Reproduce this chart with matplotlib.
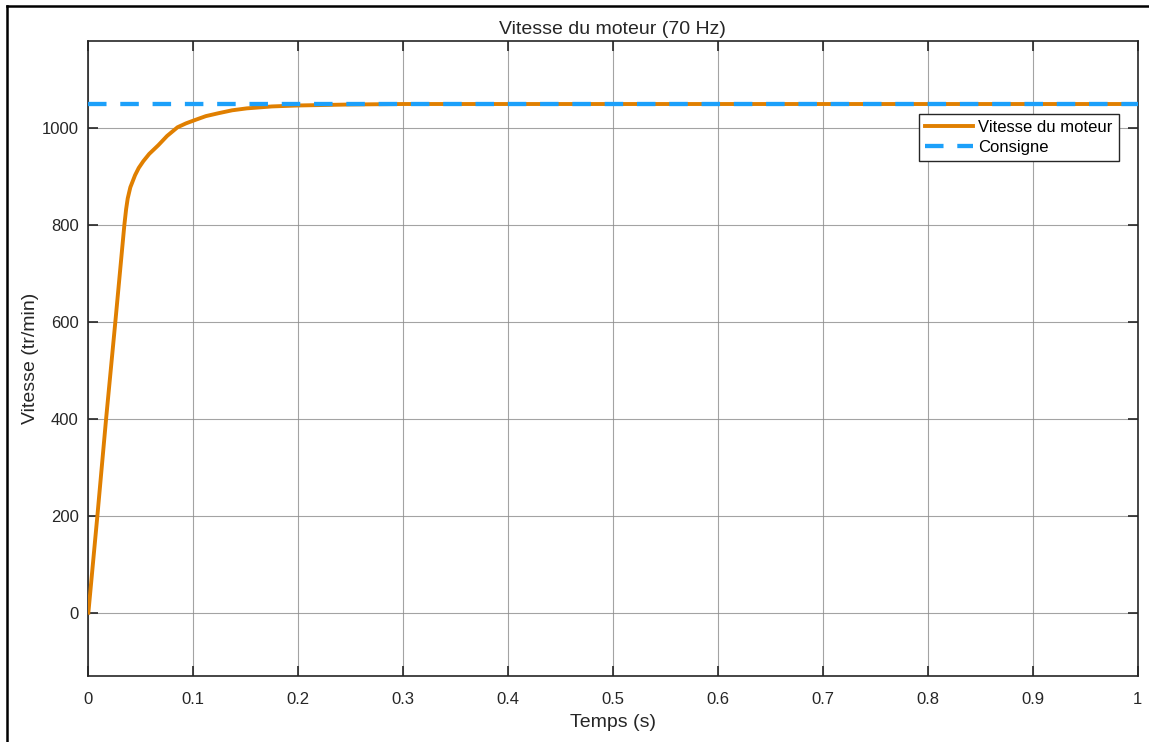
import numpy as np
import matplotlib.pyplot as plt
from matplotlib.lines import Line2D

plt.rcParams['font.family'] = ['Liberation Sans', 'DejaVu Sans']

# values
temps = [0, 0.0086, 0.0169, 0.0257, 0.0343, 0.036, 0.0375, 0.040, 0.0445,
         0.048, 0.0524, 0.058, 0.0667, 0.075, 0.085, 0.093, 0.1017, 0.112,
         0.124, 0.137, 0.151, 0.175, 0.2, 0.25, 0.3, 1.0]
vitesse = [0, 200, 400, 600, 800, 833, 855, 878, 903,
           918, 932, 947, 965, 984, 1002, 1010, 1017, 1025,
           1031, 1037, 1041, 1045, 1047, 1049, 1050, 1050]
consigne_t = [0, 1.0]
consigne = [1050, 1050]

orange = '#E07F00'
bleu = '#1CA0FA'
gris = '#262626'

fig = plt.figure(figsize=(11.49, 7.42), dpi=100)
ax = fig.add_axes([0.0769, 0.0894, 0.9131, 0.8553])

ax.plot(temps, vitesse, color=orange, lw=2.8, label='Vitesse du moteur', zorder=3)
ax.plot(consigne_t, consigne, color=bleu, lw=3.1, dashes=(4.3, 3.2),
        label='Consigne', zorder=4)

ax.set_xlim(0, 1)
ax.set_ylim(-130, 1180)
ax.set_xticks(np.arange(0, 1.01, 0.1))
ax.set_xticklabels(['0', '0.1', '0.2', '0.3', '0.4', '0.5', '0.6', '0.7', '0.8', '0.9', '1'])
ax.set_yticks([0, 200, 400, 600, 800, 1000])
ax.grid(True, color='#8c8c8c', lw=0.8, alpha=0.8)
ax.tick_params(direction='in', length=7, width=1.2, top=True, right=True,
               labelsize=12, colors=gris)
ax.tick_params(axis='x', pad=12)
ax.tick_params(axis='y', pad=7)
for s in ax.spines.values():
    s.set_color(gris)
    s.set_linewidth(1.2)

ax.set_title('Vitesse du moteur (70 Hz)', fontsize=14, color=gris, pad=5)
ax.set_xlabel('Temps (s)', fontsize=14, color=gris, labelpad=5)
ax.set_ylabel('Vitesse (tr/min)', fontsize=14, color=gris, labelpad=2)

leg = ax.legend(loc='upper right', bbox_to_anchor=(0.982, 0.885), fontsize=12,
                fancybox=False, framealpha=1, edgecolor=gris,
                borderpad=0.35, labelspacing=0.3, handlelength=2.9, handletextpad=0.3,
                borderaxespad=0)
leg.get_frame().set_linewidth(1.0)

# cropped outer frame of the screenshot (top and left)
fig.add_artist(Line2D([7 / 1149, 1], [1 - 6 / 742, 1 - 6 / 742], color='black', lw=1.8))
fig.add_artist(Line2D([7 / 1149, 7 / 1149], [0, 1 - 6 / 742], color='black', lw=1.8))

fig.savefig('out.png', dpi=100)
